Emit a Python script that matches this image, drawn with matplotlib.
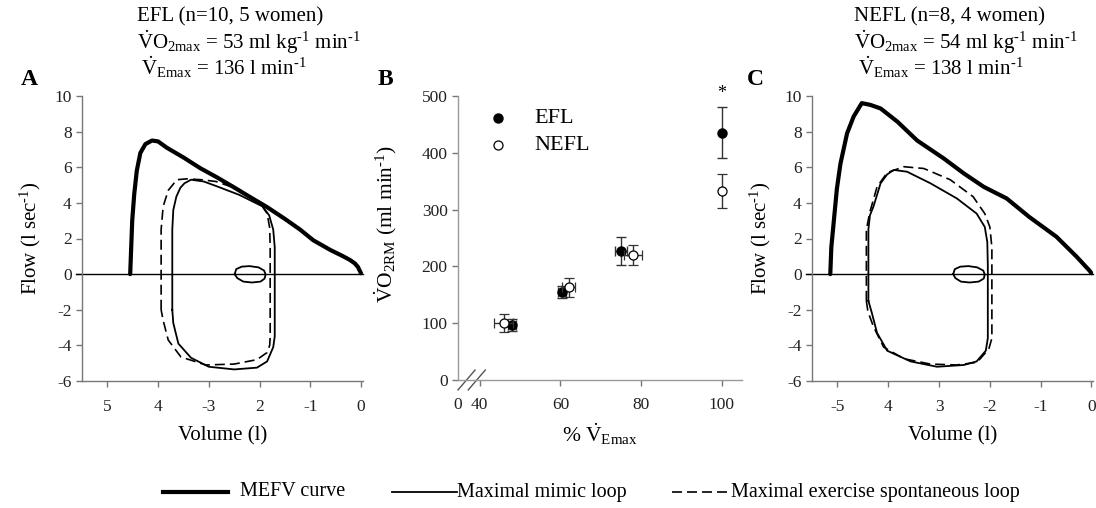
import matplotlib
matplotlib.use("Agg")
import matplotlib.pyplot as plt
from matplotlib.lines import Line2D

plt.rcParams['font.family'] = ['Liberation Serif', 'DejaVu Serif']
plt.rcParams['mathtext.fontset'] = 'custom'
plt.rcParams['mathtext.rm'] = 'Liberation Serif'
plt.rcParams['mathtext.it'] = 'Liberation Serif:italic'
plt.rcParams['mathtext.bf'] = 'Liberation Serif:bold'

# ---------------- Panel A (EFL) data: volume (l), flow (l/s) ----------------
a_mefv_vol = [4.55, 4.53, 4.51, 4.47, 4.42, 4.35, 4.25, 4.12, 4.00, 3.83, 3.50, 3.17, 2.85, 2.52, 2.20, 1.85, 1.50, 1.20, 0.94, 0.60, 0.35, 0.22, 0.12, 0.06, 0.00]
a_mefv_flow = [0.0, 1.5, 3.0, 4.5, 5.8, 6.8, 7.3, 7.5, 7.45, 7.1, 6.55, 5.95, 5.45, 4.9, 4.35, 3.76, 3.1, 2.5, 1.9, 1.35, 1.0, 0.8, 0.6, 0.4, 0.05]

a_mimic_vol = [3.72, 3.72, 3.70, 3.64, 3.56, 3.48, 3.35, 3.10, 2.86, 2.40, 1.94, 1.81, 1.73, 1.70, 1.70, 1.70, 1.73, 1.85, 2.05, 2.50, 3.00, 3.35, 3.60, 3.70, 3.72]
a_mimic_flow = [-2.0, 2.5, 3.6, 4.35, 4.85, 5.1, 5.3, 5.2, 4.95, 4.45, 3.8, 3.3, 2.5, 1.5, -2.0, -3.5, -4.1, -4.9, -5.25, -5.35, -5.2, -4.7, -3.9, -2.75, -2.0]

a_spont_vol = [3.94, 3.94, 3.90, 3.80, 3.63, 3.43, 3.15, 2.86, 2.40, 1.99, 1.85, 1.80, 1.79, 1.79, 1.80, 1.85, 2.05, 2.50, 3.06, 3.55, 3.80, 3.90, 3.94]
a_spont_flow = [-2.0, 2.5, 3.8, 4.7, 5.3, 5.35, 5.3, 5.2, 4.75, 4.0, 3.4, 2.6, 1.5, -3.5, -4.0, -4.4, -4.8, -5.05, -5.1, -4.65, -3.7, -2.6, -2.0]

a_tidal_vol = [2.49, 2.46, 2.35, 2.20, 2.02, 1.91, 1.88, 1.90, 1.98, 2.15, 2.32, 2.44, 2.49]
a_tidal_flow = [0.0, 0.28, 0.42, 0.45, 0.38, 0.2, -0.02, -0.25, -0.42, -0.47, -0.42, -0.22, 0.0]

# ---------------- Panel C (NEFL) data ----------------
c_mefv_vol = [5.14, 5.12, 5.07, 5.01, 4.94, 4.81, 4.68, 4.52, 4.35, 4.15, 3.82, 3.43, 2.91, 2.51, 2.12, 1.67, 1.22, 0.69, 0.30, 0.04, 0.00]
c_mefv_flow = [0.0, 1.5, 3.0, 4.8, 6.2, 7.9, 8.85, 9.6, 9.5, 9.3, 8.56, 7.5, 6.5, 5.65, 4.9, 4.25, 3.2, 2.1, 1.0, 0.2, 0.05]

c_mimic_vol = [4.39, 4.39, 4.36, 4.29, 4.15, 4.02, 3.89, 3.63, 3.17, 2.65, 2.26, 2.10, 2.05, 2.04, 2.04, 2.08, 2.26, 2.51, 3.04, 3.56, 4.02, 4.22, 4.32, 4.39]
c_mimic_flow = [-1.5, 2.5, 3.3, 3.8, 5.1, 5.6, 5.85, 5.75, 5.1, 4.25, 3.4, 2.65, 1.8, 0.5, -3.6, -4.3, -4.9, -5.1, -5.2, -4.9, -4.3, -3.3, -2.2, -1.5]

c_spont_vol = [4.43, 4.43, 4.36, 4.22, 4.02, 3.69, 3.30, 2.78, 2.33, 2.10, 2.00, 1.96, 1.96, 2.02, 2.25, 2.65, 3.17, 3.69, 4.09, 4.29, 4.40, 4.43]
c_spont_flow = [-1.5, 2.5, 3.5, 4.9, 5.7, 6.03, 5.93, 5.3, 4.35, 3.4, 2.65, 1.5, -3.6, -4.2, -4.95, -5.1, -5.05, -4.75, -4.1, -2.95, -2.1, -1.5]

c_tidal_vol = [2.72, 2.69, 2.58, 2.42, 2.25, 2.13, 2.10, 2.12, 2.22, 2.40, 2.57, 2.68, 2.72]
c_tidal_flow = [0.0, 0.28, 0.42, 0.45, 0.38, 0.2, -0.02, -0.25, -0.42, -0.47, -0.42, -0.22, 0.0]

vol_ticks = [5, 4, 3, 2, 1, 0]
a_vol_labels = ['5', '4', '-3', '2', '-1', '0']
c_vol_labels = ['-5', '4', '3', '-2', '-1', '0']
flow_ticks = [-6, -4, -2, 0, 2, 4, 6, 8, 10]
flow_labels = ['-6', '-4', '-2', '0', '2', '4', '6', '8', '10']

# ---------------- Panel B data ----------------
efl_x = [47.9, 60.3, 75.1, 100.0]
efl_y = [97, 155, 227, 435]
efl_xerr = [1.0, 1.0, 1.5, 0.0]
efl_yerr = [10, 10, 25, 45]
nefl_x = [45.9, 62.0, 78.0, 100.0]
nefl_y = [100, 163, 220, 332]
nefl_xerr = [2.4, 1.5, 2.2, 0.0]
nefl_yerr = [16, 17, 18, 30]
b_xticks = [34.6, 40, 60, 80, 100]
b_xlabels = ['0', '40', '60', '80', '100']
b_yticks = [0, 100, 200, 300, 400, 500]

W, H = 1096, 508
fig = plt.figure(figsize=(W / 100, H / 100), dpi=100)

def rect(l, t, r, b):
    return [l / W, 1 - b / H, (r - l) / W, (b - t) / H]

SUP = r'$^{\text{-}1}$'
spine_col = '#777777'
FS_TICK = 12.5
FS_LAB = 15

def style_axes(ax):
    for s in ['top', 'right']:
        ax.spines[s].set_visible(False)
    for s in ['left', 'bottom']:
        ax.spines[s].set_color(spine_col)
        ax.spines[s].set_linewidth(1.0)
    ax.tick_params(axis='both', direction='out', length=4, color=spine_col,
                   labelsize=FS_TICK, labelcolor='#222222', width=1.0)

def flow_panel(ax, mefv, mimic, spont, tidal, xlabels, xr):
    ax.plot(mefv[0], mefv[1], color='black', lw=3.0, solid_capstyle='round',
            solid_joinstyle='round')
    ax.plot(mimic[0], mimic[1], color='black', lw=1.3)
    ax.plot(spont[0], spont[1], color='black', lw=1.2, dashes=(6, 3))
    ax.plot(tidal[0], tidal[1], color='black', lw=1.3)
    ax.axhline(0, color='black', lw=1.0, xmin=-0.02, xmax=1.0, clip_on=False)
    ax.set_xlim(5.5, xr)
    ax.set_ylim(-6, 10)
    ax.set_xticks(vol_ticks)
    ax.set_xticklabels(xlabels)
    ax.set_yticks(flow_ticks)
    ax.set_yticklabels(flow_labels)
    style_axes(ax)
    ax.tick_params(axis='x', pad=9)
    ax.set_xlabel('Volume (l)', fontsize=FS_LAB, labelpad=8)
    ax.set_ylabel('Flow (l sec' + SUP + ')', fontsize=FS_LAB, labelpad=8)

axA = fig.add_axes(rect(82, 96, 363, 381))
flow_panel(axA, (a_mefv_vol, a_mefv_flow), (a_mimic_vol, a_mimic_flow),
           (a_spont_vol, a_spont_flow), (a_tidal_vol, a_tidal_flow), a_vol_labels, -0.04)

axC = fig.add_axes(rect(812, 96, 1093, 381))
flow_panel(axC, (c_mefv_vol, c_mefv_flow), (c_mimic_vol, c_mimic_flow),
           (c_spont_vol, c_spont_flow), (c_tidal_vol, c_tidal_flow), c_vol_labels, -0.03)

# ---------------- Panel B ----------------
axB = fig.add_axes(rect(458, 96, 742, 380))
eb_col = '#333333'
axB.errorbar(efl_x, efl_y, xerr=efl_xerr, yerr=efl_yerr, fmt='o', color='black',
             ecolor=eb_col, elinewidth=1.0, capsize=3.6, capthick=1.0,
             markersize=6.5, markerfacecolor='black', markeredgecolor='black', zorder=3)
axB.errorbar(nefl_x, nefl_y, xerr=nefl_xerr, yerr=nefl_yerr, fmt='o', color='black',
             ecolor=eb_col, elinewidth=1.0, capsize=3.6, capthick=1.0,
             markersize=6.5, markerfacecolor='white', markeredgecolor='black',
             markeredgewidth=0.9, zorder=4)
axB.set_xlim(34.6, 105)
axB.set_ylim(0, 500)
axB.set_xticks(b_xticks)
axB.set_xticklabels(b_xlabels)
axB.set_yticks(b_yticks)
style_axes(axB)
axB.spines['left'].set_color('#999999')
axB.spines['bottom'].set_color('#999999')
axB.tick_params(axis='x', pad=8)
axB.get_xticklines()[0].set_visible(False)
axB.get_xticklines()[1].set_visible(False)
axB.text(100, 490, '*', ha='center', va='bottom', fontsize=13)
# axis-break marks
for dx in (0.0, 0.036):
    axB.plot([0.0 + dx, 0.06 + dx], [-0.035, 0.035], transform=axB.transAxes,
             color='#555555', lw=1.0, clip_on=False)
axB.set_xlabel(r'% $\dot{\mathrm{V}}_{\mathrm{Emax}}$', fontsize=FS_LAB + 0.5, labelpad=6)
axB.text(-0.255, 0.55, r'$\dot{\mathrm{V}}\mathrm{O}_{2\mathrm{RM}}$ (ml min' + SUP + ')',
         transform=axB.transAxes, rotation=90, ha='center', va='center', fontsize=FS_LAB + 0.5)
# panel B legend
axB.plot([0.141], [0.922], 'o', transform=axB.transAxes, color='black', markersize=6.5)
axB.plot([0.141], [0.827], 'o', transform=axB.transAxes, markerfacecolor='white',
         markeredgecolor='black', markersize=6.5, markeredgewidth=0.9)
axB.text(0.27, 0.922, 'EFL', transform=axB.transAxes, va='center', fontsize=16)
axB.text(0.27, 0.827, 'NEFL', transform=axB.transAxes, va='center', fontsize=16)

# ---------------- Titles and panel letters ----------------
FS_T = 15
def header(x, lines):
    fig.text(x / W, 1 - 17 / H, lines[0], fontsize=FS_T, va='center', ha='left')
    fig.text(x / W, 1 - 42 / H, lines[1], fontsize=FS_T, va='center', ha='left')
    fig.text((x + 4) / W, 1 - 67 / H, lines[2], fontsize=FS_T, va='center', ha='left')

header(137, ['EFL (n=10, 5 women)',
             r'$\dot{\mathrm{V}}\mathrm{O}_{2\mathrm{max}}$ = 53 ml kg' + SUP + ' min' + SUP,
             r'$\dot{\mathrm{V}}_{\mathrm{Emax}}$ = 136 l min' + SUP])
header(854, ['NEFL (n=8, 4 women)',
             r'$\dot{\mathrm{V}}\mathrm{O}_{2\mathrm{max}}$ = 54 ml kg' + SUP + ' min' + SUP,
             r'$\dot{\mathrm{V}}_{\mathrm{Emax}}$ = 138 l min' + SUP])

for lab, x in (('A', 29), ('B', 385), ('C', 755)):
    fig.text(x / W, 1 - 80 / H, lab, fontsize=17, fontweight='bold', ha='center', va='center')

# ---------------- Bottom legend ----------------
FS_LEG = 14.5
ly = 1 - 492 / H
fig.add_artist(Line2D([163 / W, 228 / W], [ly, ly], color='black', lw=3.0))
fig.text(240 / W, ly, 'MEFV curve', fontsize=FS_LEG, va='center', ha='left')
fig.add_artist(Line2D([392 / W, 457 / W], [ly, ly], color='black', lw=1.3))
fig.text(457 / W, ly, 'Maximal mimic loop', fontsize=FS_LEG, va='center', ha='left')
fig.add_artist(Line2D([672 / W, 731 / W], [ly, ly], color='black', lw=1.2, dashes=(6, 3)))
fig.text(731 / W, ly, 'Maximal exercise spontaneous loop', fontsize=FS_LEG, va='center', ha='left')

fig.savefig('out.png', dpi=100)
